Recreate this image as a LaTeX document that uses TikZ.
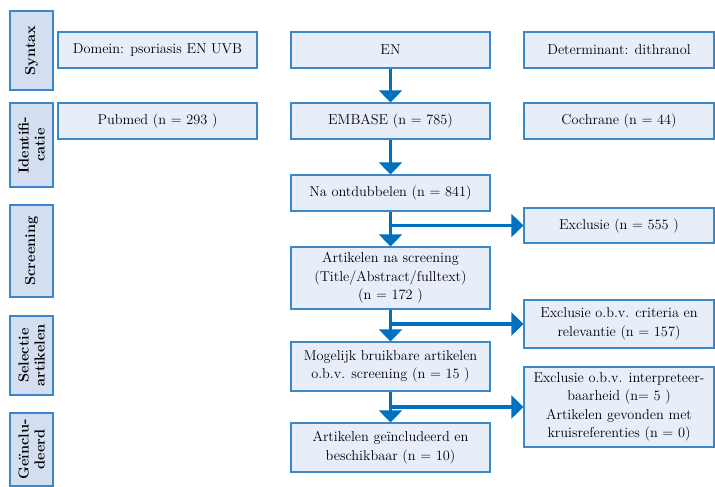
\documentclass[tikz,border=0pt]{standalone}
\usepackage{xcolor}
\usepackage{tikz}
\usetikzlibrary{calc}
\usetikzlibrary{arrows.meta}
\usetikzlibrary{positioning}
\definecolor{labelfill}{HTML}{D3DEF1}
\definecolor{boxfill}{HTML}{E8EEF9}
\definecolor{boxline}{HTML}{3C87C8}
\definecolor{arrowblue}{HTML}{0070C0}
\tikzstyle{phasenode}=[draw=boxline, line width=1.5pt, fill=labelfill, shape=rectangle, rotate=90, minimum height=43pt, inner sep=1pt, align=center, font=\fontsize{14.5}{16}\selectfont\bfseries]
\tikzstyle{stepnode}=[draw=boxline, line width=1.3pt, fill=boxfill, shape=rectangle, minimum width=199pt, minimum height=36pt, inner sep=2pt, align=center, font=\fontsize{14.3}{18.5}\selectfont]
\tikzstyle{exclnode}=[stepnode, minimum width=190pt]

\begin{document}
\begin{tikzpicture}[x=1pt, y=-1pt]
\useasboundingbox (0,0) rectangle (715,487);
\node [phasenode, minimum width=79pt] (syntax) at (31.5,50.5) {Syntax};
\node [phasenode, minimum width=84pt] (ident) at (31.5,145) {Identifi-\\catie};
\node [phasenode, minimum width=92pt] (screen) at (31.5,251) {Screening};
\node [phasenode, minimum width=79pt] (select) at (31.5,355.5) {Selectie\\artikelen};
\node [phasenode, minimum width=73pt] (incl) at (31.5,449.5) {Geïnclu-\\deerd};

\node [stepnode] (domein) at (157.5,50) {Domein: psoriasis EN UVB};
\node [stepnode] (en) at (390.5,50) {EN};
\node [exclnode] (determ) at (619,50) {Determinant: dithranol};
\node [stepnode] (pubmed) at (157.5,121) {Pubmed (n = 293 )};
\node [stepnode] (embase) at (390.5,121) {EMBASE (n = 785)};
\node [exclnode] (cochrane) at (619,121) {Cochrane (n = 44)};
\node [stepnode] (ontdub) at (390.5,193) {Na ontdubbelen (n = 841)};
\node [exclnode, minimum height=35pt] (excl0) at (619,225.5) {Exclusie (n = 555 )};
\node [stepnode, minimum height=62pt] (screened) at (390.5,278) {Artikelen na screening\\(Title/Abstract/fulltext)\\(n = 172 )};
\node [exclnode, minimum height=48pt] (excl1) at (619,324) {Exclusie o.b.v. criteria en\\relevantie (n = 157)};
\node [stepnode, minimum height=49pt] (usable) at (390.5,366.5) {Mogelijk bruikbare artikelen\\o.b.v. screening (n = 15 )};
\node [exclnode, minimum height=80pt] (excl2) at (619,407) {Exclusie o.b.v. interpreteer-\\baarheid (n= 5 )\\Artikelen gevonden met\\kruisreferenties (n = 0)};
\node [stepnode, minimum height=49pt] (included) at (390.5,447.5) {Artikelen geïncludeerd en\\beschikbaar (n = 10)};

\draw[-{Triangle[length=12pt, width=23pt]}, line width=3.5pt, color=arrowblue] (en) -- (embase);
\draw[-{Triangle[length=12pt, width=23pt]}, line width=3.5pt, color=arrowblue] (embase) -- (ontdub);
\draw[-{Triangle[length=12pt, width=23pt]}, line width=3.5pt, color=arrowblue] (ontdub) -- (screened);
\draw[-{Triangle[length=12pt, width=23pt]}, line width=3.5pt, color=arrowblue] (screened) -- (usable);
\draw[-{Triangle[length=12pt, width=23pt]}, line width=3.5pt, color=arrowblue] (usable) -- (included);
\draw[-{Triangle[length=12pt, width=23pt]}, line width=3.5pt, color=arrowblue] (ontdub.south |- excl0.west) -- (excl0.west);
\draw[-{Triangle[length=12pt, width=23pt]}, line width=3.5pt, color=arrowblue] (screened.south |- excl1.west) -- (excl1.west);
\draw[-{Triangle[length=12pt, width=23pt]}, line width=3.5pt, color=arrowblue] (usable.south |- excl2.west) -- (excl2.west);
\end{tikzpicture}
\end{document}
